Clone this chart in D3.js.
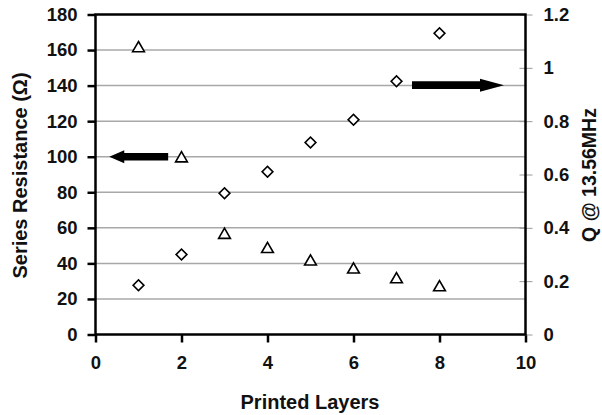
<!DOCTYPE html>
<html>
<head>
<meta charset="utf-8">
<script src="https://cdn.jsdelivr.net/npm/d3@7"></script>
<style>
  body { margin: 0; background: #fff; }
  text { font-family: "Liberation Sans", Arial, sans-serif; font-weight: bold; fill: #111; }
</style>
</head>
<body>
<div id="chart"></div>
<script>
// Data
const layers = [1, 2, 3, 4, 5, 6, 7, 8];
const resistance = [161, 99, 56, 48, 41, 36.5, 31, 26.5];          // left axis, triangles
const qFactor = [0.185, 0.30, 0.53, 0.61, 0.72, 0.805, 0.95, 1.13]; // right axis, diamonds
const xTicks = [0, 2, 4, 6, 8, 10];
const leftTicks = [0, 20, 40, 60, 80, 100, 120, 140, 160, 180];
const rightTicks = [0, 0.2, 0.4, 0.6, 0.8, 1, 1.2];
// arrow annotations: [x from, x to, y] in data units
const leftArrow = [1.69, 0.32, 100];
const rightArrow = [7.36, 9.5, 0.935];

const W = 602, H = 415;
const margin = {top: 14.5, left: 95.5, right: 76.5, bottom: 80.5};
const width = W - margin.left - margin.right;
const height = H - margin.top - margin.bottom;

const svg = d3.select("#chart").append("svg")
    .attr("width", W)
    .attr("height", H);

const g = svg.append("g")
    .attr("transform", `translate(${margin.left},${margin.top})`);

// Scales
const x = d3.scaleLinear().domain([0, 10]).range([0, width]);
const yL = d3.scaleLinear().domain([0, 180]).range([height, 0]);
const yR = d3.scaleLinear().domain([0, 1.2]).range([height, 0]);

// Gridlines
g.append("g").selectAll("line")
    .data(leftTicks.filter(d => d > 0 && d < 180))
    .join("line")
    .attr("x1", 0).attr("x2", width)
    .attr("y1", d => yL(d)).attr("y2", d => yL(d))
    .attr("stroke", "#a8a8a8")
    .attr("stroke-width", 1.5);

// Axes
const xAxis = g.append("g")
    .attr("transform", `translate(0,${height})`)
    .call(d3.axisBottom(x).tickValues(xTicks).tickSize(8).tickPadding(13));

const leftAxis = g.append("g")
    .call(d3.axisLeft(yL).tickValues(leftTicks).tickSize(8).tickPadding(10));

const rightAxis = g.append("g")
    .attr("transform", `translate(${width},0)`)
    .call(d3.axisRight(yR).tickValues(rightTicks).tickFormat(d3.format("~g")).tickSize(7).tickPadding(11));

[xAxis, leftAxis, rightAxis].forEach(a => {
  a.select(".domain").remove();
  a.selectAll(".tick text").style("font-size", "18.5px").style("font-weight", "bold")
      .attr("fill", "#111");
});
xAxis.selectAll(".tick line").attr("stroke", "#000").attr("stroke-width", 2.5);
leftAxis.selectAll(".tick line").attr("stroke", "#000").attr("stroke-width", 2.5);
rightAxis.selectAll(".tick line").attr("stroke", "#999").attr("stroke-width", 1)
    .attr("x1", -6);

// Frame
g.append("rect")
    .attr("width", width).attr("height", height)
    .attr("fill", "none")
    .attr("stroke", "#000")
    .attr("stroke-width", 2.5);

// Markers
const tri = d3.symbol().type(d3.symbolTriangle).size(60);
const sq = d3.symbol().type(d3.symbolSquare).size(58);

g.append("g").selectAll("path")
    .data(layers.map((l, i) => [l, resistance[i]]))
    .join("path")
    .attr("d", tri)
    .attr("transform", d => `translate(${x(d[0])},${yL(d[1])})`)
    .attr("fill", "#fff")
    .attr("stroke", "#000")
    .attr("stroke-width", 1.6);

g.append("g").selectAll("path")
    .data(layers.map((l, i) => [l, qFactor[i]]))
    .join("path")
    .attr("d", sq)
    .attr("transform", d => `translate(${x(d[0])},${yR(d[1])}) rotate(45)`)
    .attr("fill", "#fff")
    .attr("stroke", "#000")
    .attr("stroke-width", 1.6);

// Arrows
function arrow(x0, x1, y, head) {
  const dir = Math.sign(x1 - x0);
  const hw = 6.5, sw = 3.8;
  const xb = x1 - dir * head;
  return `M${x0},${y - sw}L${xb},${y - sw}L${xb},${y - hw}L${x1},${y}L${xb},${y + hw}L${xb},${y + sw}L${x0},${y + sw}Z`;
}
g.append("path")
    .attr("d", arrow(x(leftArrow[0]), x(leftArrow[1]), yL(leftArrow[2]), 15))
    .attr("fill", "#000");
g.append("path")
    .attr("d", arrow(x(rightArrow[0]), x(rightArrow[1]), yR(rightArrow[2]), 24))
    .attr("fill", "#000");

// Axis titles
svg.append("text")
    .attr("x", 310)
    .attr("y", 409)
    .attr("text-anchor", "middle")
    .style("font-size", "20px")
    .text("Printed Layers");

svg.append("text")
    .attr("transform", `translate(27,175.5) rotate(-90)`)
    .attr("text-anchor", "middle")
    .style("font-size", "20px")
    .text("Series Resistance (Ω)");

svg.append("text")
    .attr("transform", `translate(596,175) rotate(-90)`)
    .attr("text-anchor", "middle")
    .style("font-size", "19.5px")
    .text("Q @ 13.56MHz");
</script>
</body>
</html>
